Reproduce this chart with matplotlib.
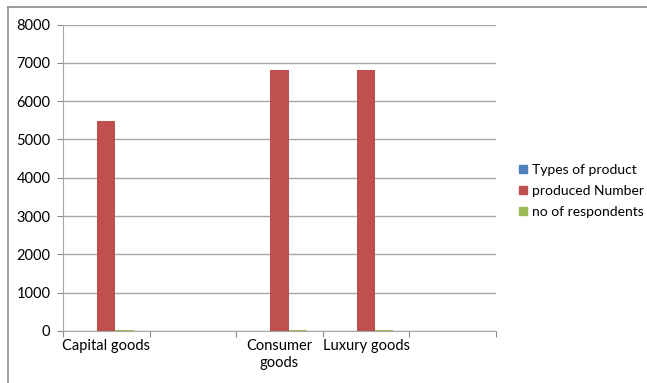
import matplotlib.pyplot as plt
import numpy as np
from matplotlib.patches import Patch

categories = ["Capital goods", "", "Consumer\ngoods", "Luxury goods", ""]
series_names = ["Types of product", "produced Number", "no of respondents"]
types_of_product = [0, 0, 0, 0, 0]
produced_number = [5480, 0, 6800, 6800, 0]
no_of_respondents = [30, 0, 30, 30, 0]
colors = ["#4F81BD", "#C0504D", "#9BBB59"]

plt.rcParams['font.family'] = ['Lato', 'DejaVu Sans']

fig = plt.figure(figsize=(6.47, 3.83), dpi=100)
# outer chart frame (only top/left visible in the reference)
fig.add_artist(plt.Line2D([8 / 647, 1.0], [1 - 7 / 383] * 2, color="#8c8c8c", lw=1.2))
fig.add_artist(plt.Line2D([8 / 647] * 2, [0.0, 1 - 7 / 383], color="#8c8c8c", lw=1.2))

ax = fig.add_axes([63 / 647, 1 - 331 / 383, (496 - 63) / 647, (331 - 24.5) / 383])

x = np.arange(len(categories))
w = 0.21
all_series = [types_of_product, produced_number, no_of_respondents]
for i, vals in enumerate(all_series):
    ax.bar(x + (i - 1) * w, vals, width=w, color=colors[i], zorder=3)

ax.set_xlim(-0.5, len(categories) - 0.5)
ax.set_ylim(0, 8000)
ax.set_yticks(range(0, 8001, 1000))
ax.yaxis.grid(True, color="#a6a6a6", lw=1)
ax.set_axisbelow(True)

# category boundary ticks
ax.set_xticks(np.arange(-0.5, len(categories), 1.0))
ax.set_xticklabels([])
ax.set_xticks(x, minor=True)
ax.set_xticklabels(categories, minor=True, fontsize=10.5)
ax.tick_params(axis="x", which="minor", length=0, pad=6)
ax.tick_params(axis="x", which="major", length=4, color="#8c8c8c")
ax.tick_params(axis="y", length=4, color="#8c8c8c", labelsize=10.5, pad=5)

for side in ["top", "right"]:
    ax.spines[side].set_visible(False)
for side in ["left", "bottom"]:
    ax.spines[side].set_color("#a6a6a6")

handles = [Patch(color=c) for c in colors]
fig.legend(handles, series_names, loc="center left", bbox_to_anchor=(519 / 647, 0.501),
           frameon=False, fontsize=10, handlelength=0.55, handleheight=0.55,
           handletextpad=0.35, labelspacing=0.65, borderaxespad=0, borderpad=0)

fig.savefig("out.png", dpi=100)
